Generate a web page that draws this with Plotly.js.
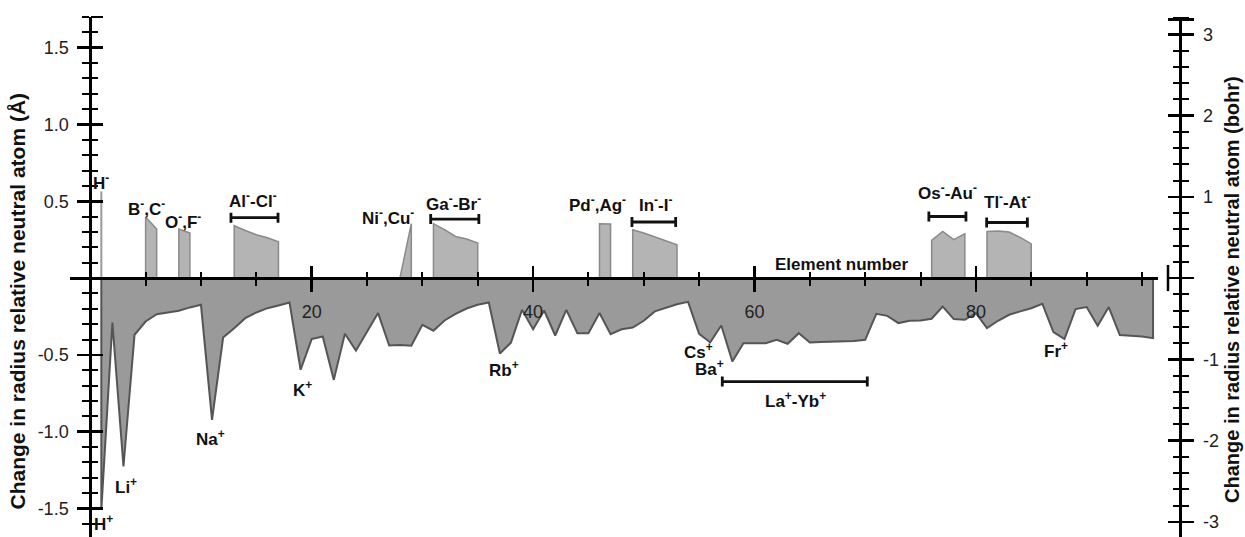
<!DOCTYPE html>
<html><head><meta charset="utf-8">
<script src="https://cdn.plot.ly/plotly-3.0.1.min.js"></script>
<style>html,body{margin:0;padding:0;background:#fff}#chart{width:1245px;height:537px}</style>
</head><body><div id="chart"></div>
<script>
// ---- data (Å change in radius relative to neutral atom) ----
const Z_CATION = [1,2,3,4,5,6,7,8,9,10,11,12,13,14,15,16,17,18,19,20,21,22,23,24,25,26,27,28,29,30,31,32,33,34,35,36,37,38,39,40,41,42,43,44,45,46,47,48,49,50,51,52,53,54,55,56,57,58,59,60,61,62,63,64,65,66,67,68,69,70,71,72,73,74,75,76,77,78,79,80,81,82,83,84,85,86,87,88,89,90,91,92,93,94,95,96];
const DR_CATION = [-1.51,-0.29,-1.227,-0.369,-0.283,-0.235,-0.222,-0.213,-0.191,-0.174,
  -0.923,-0.387,-0.326,-0.261,-0.224,-0.196,-0.178,-0.159,-0.597,-0.397,
  -0.38,-0.663,-0.363,-0.472,-0.35,-0.228,-0.439,-0.435,-0.44,-0.304,
  -0.343,-0.276,-0.233,-0.198,-0.174,-0.159,-0.491,-0.42,-0.207,-0.333,
  -0.211,-0.374,-0.207,-0.359,-0.359,-0.228,-0.365,-0.333,-0.322,-0.278,
  -0.217,-0.191,-0.17,-0.155,-0.363,-0.419,-0.309,-0.543,-0.424,-0.424,
  -0.424,-0.402,-0.428,-0.359,-0.419,-0.417,-0.415,-0.413,-0.41,-0.402,
  -0.233,-0.246,-0.293,-0.278,-0.276,-0.265,-0.185,-0.267,-0.272,-0.228,
  -0.326,-0.278,-0.239,-0.217,-0.196,-0.167,-0.352,-0.397,-0.202,-0.189,
  -0.311,-0.189,-0.371,-0.375,-0.38,-0.391];
const Z_ANION = [1, 5,6, 8,9, 13,14,15,16,17, 28,29, 31,32,33,34,35, 46,47, 49,50,51,52,53, 76,77,78,79, 81,82,83,84,85];
const DR_ANION = [0.564, 0.397,0.319, 0.319,0.293, 0.341,0.31,0.282,0.263,0.236, 0.01,0.354,
  0.354,0.315,0.271,0.254,0.228, 0.354,0.352, 0.315,0.293,0.267,0.239,0.217,
  0.245,0.304,0.25,0.289, 0.304,0.306,0.3,0.265,0.223];
// range brackets (element number from/to, level in Å)
const BRACKET_FROM  = [12.71, 30.75, 48.93, 75.75, 80.97, 57.09];
const BRACKET_TO    = [16.96, 35.10, 52.88, 79.10, 84.65, 70.19];
const BRACKET_LEVEL = [0.393, 0.384, 0.365, 0.401, 0.362, -0.674];
const BOHR = 0.529177;

// ---- geometry ----
const XR = [-1.83, 96.45], XDOM = [0, 0.9802], YR = [-1.686, 1.70];
const BR = [YR[0]/BOHR, YR[1]/BOHR];
const yPos0 = (0 - YR[0]) / (YR[1] - YR[0]);
const xPos0 = XDOM[1] * (0 - XR[0]) / (XR[1] - XR[0]);
const FONT = 'Liberation Sans, Arial, Helvetica, sans-serif';

const xMinor = [], yMinor = [], bMinor = [];
for (let v = 5; v <= 95; v += 5) if (v % 20) xMinor.push(v);
for (let i = -17; i <= 17; i++) if (i % 5) yMinor.push(i / 10);
for (let i = -16; i <= 16; i++) if (i % 5) bMinor.push(i / 5);

const traces = [];
// cations: closed polygon from zero
traces.push({
  x: [Z_CATION[0]].concat(Z_CATION, [Z_CATION[Z_CATION.length-1]]),
  y: [0].concat(DR_CATION, [0]),
  mode: 'lines', fill: 'toself', fillcolor: '#9a9a9a',
  line: {color: '#555555', width: 2}, hoverinfo: 'skip', xaxis: 'x', yaxis: 'y'
});
// anions: split contiguous runs
let run = null; const runs = [];
Z_ANION.forEach((z, i) => {
  if (!run || z !== run.z[run.z.length-1] + 1) { run = {z: [], v: []}; runs.push(run); }
  run.z.push(z); run.v.push(DR_ANION[i]);
});
runs.forEach(r => {
  traces.push({
    x: [r.z[0]].concat(r.z, [r.z[r.z.length-1]]),
    y: [0].concat(r.v, [0]),
    mode: 'lines', fill: 'toself', fillcolor: '#b4b4b4',
    line: {color: r.z.length === 1 ? '#9a9a9a' : '#8a8a8a', width: r.z.length === 1 ? 2 : 1.5},
    hoverinfo: 'skip', xaxis: 'x', yaxis: 'y'
  });
});
// brackets via error bars
traces.push({
  x: BRACKET_FROM.map((a, i) => (a + BRACKET_TO[i]) / 2),
  y: BRACKET_LEVEL,
  mode: 'markers', marker: {size: 1, color: 'rgba(0,0,0,0)'},
  error_x: {type: 'data', symmetric: true, array: BRACKET_FROM.map((a, i) => (BRACKET_TO[i] - a) / 2),
            color: '#111', thickness: 2.8, width: 5},
  hoverinfo: 'skip', xaxis: 'x', yaxis: 'y'
});
// helper (invisible) traces so overlay axes get drawn
[['x2','y'],['x','y2'],['x','y3'],['x','y4']].forEach(p => traces.push({
  x: [XR[0]], y: [0], mode: 'markers', marker: {opacity: 0, size: 1},
  hoverinfo: 'skip', xaxis: p[0], yaxis: p[1]
}));

const tickStyle = {ticklen: 12, tickwidth: 2.5, tickcolor: '#000'};
const minorX = {tickvals: xMinor, ticks: 'outside', ticklen: 6, tickwidth: 2, tickcolor: '#000'};
const minorY = {tickvals: yMinor, ticks: 'outside', ticklen: 7, tickwidth: 2, tickcolor: '#000'};
const minorB = {tickvals: bMinor, ticks: 'outside', ticklen: 7, tickwidth: 2, tickcolor: '#000'};
const yMajorVals = [-1.5, -1, -0.5, 0.5, 1, 1.5, 1.7];
const yMajorText = ['-1.5', '-1.0', '-0.5', '0.5', '1.0', '1.5', ''];
const bMajorVals = [-3, -2, -1, 0, 1, 2, 3, 3.18];
const bMajorText = ['-3', '-2', '-1', '', '1', '2', '3', ''];

const labels = [
  ['H<sup>-</sup>', 1.0, 0.627], ['B<sup>-</sup>,C<sup>-</sup>', 5.1, 0.458],
  ['O<sup>-</sup>,F<sup>-</sup>', 8.4, 0.373], ['Al<sup>-</sup>-Cl<sup>-</sup>', 14.7, 0.51],
  ['Ni<sup>-</sup>,Cu<sup>-</sup>', 26.9, 0.40], ['Ga<sup>-</sup>-Br<sup>-</sup>', 32.85, 0.49],
  ['Pd<sup>-</sup>,Ag<sup>-</sup>', 45.8, 0.48], ['In<sup>-</sup>-I<sup>-</sup>', 51.1, 0.48],
  ['Os<sup>-</sup>-Au<sup>-</sup>', 77.4, 0.562], ['Tl<sup>-</sup>-At<sup>-</sup>', 82.85, 0.50],
  ['Element number', 67.9, 0.09],
  ['H<sup>+</sup>', 1.24, -1.597], ['Li<sup>+</sup>', 3.23, -1.353], ['Na<sup>+</sup>', 10.86, -1.04],
  ['K<sup>+</sup>', 19.2, -0.721], ['Rb<sup>+</sup>', 37.4, -0.591], ['Cs<sup>+</sup>', 54.9, -0.478],
  ['Ba<sup>+</sup>', 55.9, -0.585], ['La<sup>+</sup>-Yb<sup>+</sup>', 63.7, -0.791], ['Fr<sup>+</sup>', 87.2, -0.467]
];
const annotations = labels.map(l => ({
  text: '<b>' + l[0] + '</b>', x: l[1], y: l[2], xref: 'x', yref: 'y',
  showarrow: false, xanchor: 'center', yanchor: 'middle',
  font: {family: FONT, size: 17, color: '#111'}
}));
annotations.push({
  text: '<b>Change in radius relative neutral atom (Å)</b>', textangle: -90,
  xref: 'paper', yref: 'paper', x: (17 - 70) / 1110, y: (537 - 301.5) / 520,
  showarrow: false, xanchor: 'center', yanchor: 'middle', font: {family: FONT, size: 21, color: '#111'}
});
annotations.push({
  text: '<b>Change in radius relative neutral atom (bohr)</b>', textangle: -90,
  xref: 'paper', yref: 'paper', x: (1232 - 70) / 1110, y: (537 - 290) / 520,
  showarrow: false, xanchor: 'center', yanchor: 'middle', font: {family: FONT, size: 20, color: '#111'}
});

const common = {showgrid: false, zeroline: false, automargin: false, fixedrange: true};
const layout = {
  width: 1245, height: 537, margin: {l: 70, r: 65, t: 17, b: 0},
  paper_bgcolor: '#fff', plot_bgcolor: '#fff', showlegend: false,
  font: {family: FONT, color: '#111'},
  xaxis: Object.assign({}, common, tickStyle, {
    domain: XDOM, range: XR, anchor: 'free', position: yPos0,
    showline: true, linewidth: 2.5, linecolor: '#000',
    ticks: 'outside', tickmode: 'array', tickvals: [20, 40, 60, 80], ticktext: ['20', '40', '60', '80'],
    tickfont: {family: FONT, size: 18, color: '#222'}, ticklabelstandoff: 5, minor: minorX
  }),
  xaxis2: Object.assign({}, common, tickStyle, {
    overlaying: 'x', range: XR, anchor: 'free', position: yPos0, side: 'top',
    showline: false, ticks: 'outside', tickmode: 'array', tickvals: [20, 40, 60, 80],
    showticklabels: false, minor: minorX
  }),
  yaxis: Object.assign({}, common, tickStyle, {
    range: YR, anchor: 'free', position: xPos0, side: 'left',
    showline: true, linewidth: 2.5, linecolor: '#000',
    ticks: 'outside', tickmode: 'array', tickvals: yMajorVals, ticktext: yMajorText,
    tickfont: {family: FONT, size: 18, color: '#222'}, ticklabelstandoff: 5, minor: minorY
  }),
  yaxis3: Object.assign({}, common, tickStyle, {
    overlaying: 'y', range: YR, anchor: 'free', position: xPos0, side: 'right',
    showline: false, ticks: 'outside', tickmode: 'array', tickvals: yMajorVals,
    showticklabels: false, minor: minorY
  }),
  yaxis2: Object.assign({}, common, tickStyle, {
    overlaying: 'y', range: BR, anchor: 'free', position: 1, side: 'right',
    showline: true, linewidth: 2.5, linecolor: '#000',
    ticks: 'outside', tickmode: 'array', tickvals: bMajorVals, ticktext: bMajorText,
    tickfont: {family: FONT, size: 18, color: '#222'}, ticklabelstandoff: 6, minor: minorB
  }),
  yaxis4: Object.assign({}, common, tickStyle, {
    overlaying: 'y', range: BR, anchor: 'free', position: 1, side: 'left',
    showline: false, ticks: 'outside', tickmode: 'array', tickvals: bMajorVals,
    showticklabels: false, minor: minorB
  }),
  shapes: [{type: 'line', xref: 'paper', yref: 'y', x0: (1168 - 70) / 1110, x1: (1168 - 70) / 1110,
            y0: -0.085, y1: 0.085, line: {color: '#000', width: 2.5}}],
  annotations: annotations
};
Plotly.newPlot('chart', traces, layout, {staticPlot: true, displayModeBar: false});
</script></body></html>
